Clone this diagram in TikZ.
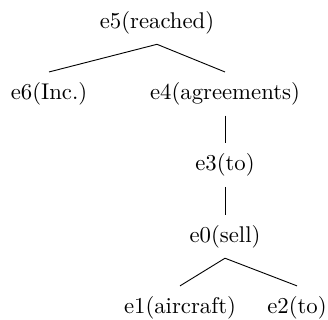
\documentclass[tikz,border=0pt]{standalone}
\begin{document}
\begin{tikzpicture}[x=0.44pt,y=-0.44pt,
  tn/.style={inner xsep=2pt,inner ysep=4.4pt,font=\normalsize},
  edge/.style={draw=black,line width=0.4pt}]
\useasboundingbox (0,0) rectangle (328,320);
\node[tn] (e5) at (157,22.5) {e5(reached)};
\node[tn] (e6) at (49,93.8) {e6(Inc.)};
\node[tn] (e4) at (225,93.8) {e4(agreements)};
\node[tn] (e3) at (225,165.1) {e3(to)};
\node[tn] (e0) at (225,236.4) {e0(sell)};
\node[tn] (e1) at (180,307.7) {e1(aircraft)};
\node[tn] (e2) at (297,307.7) {e2(to)};
\draw[edge] (e5.south) -- (e6.north);
\draw[edge] (e5.south) -- (e4.north);
\draw[edge] (e4.south) -- (e3.north);
\draw[edge] (e3.south) -- (e0.north);
\draw[edge] (e0.south) -- (e1.north);
\draw[edge] (e0.south) -- (e2.north);
\end{tikzpicture}
\end{document}
